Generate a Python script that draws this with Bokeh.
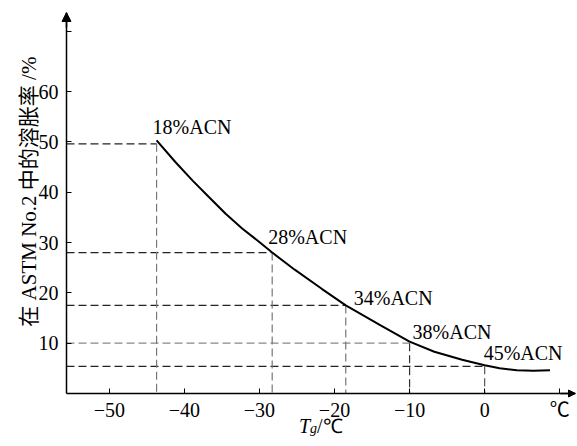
import math
from bokeh.plotting import figure
from bokeh.models import Range1d, FixedTicker, Arrow, NormalHead, ColumnDataSource
from bokeh.core.properties import value
from bokeh.embed import file_html
from bokeh.resources import INLINE

# ---- data ----
acn_labels = ["18%ACN", "28%ACN", "34%ACN", "38%ACN", "45%ACN"]
tg = [-43.7, -28.3, -18.5, -10.0, 0.0]
swell = [49.6, 28.0, 17.5, 10.0, 5.4]

curve_x = [-43.7, -41.2, -38.9, -36.7, -34.5, -32.3, -30.1, -28.3, -25.3, -21.7,
           -18.5, -13.8, -10.0, -6.7, -3.0, 0.0, 2.0, 4.3, 6.5, 8.7]
curve_y = [50.3, 46.0, 42.3, 39.0, 35.7, 32.8, 30.2, 28.0, 24.6, 20.8,
           17.5, 13.5, 10.3, 8.3, 6.7, 5.6, 5.0, 4.6, 4.5, 4.6]

x_ticks = [-50, -40, -30, -20, -10, 0, 10]
x_tick_labels = {-50: "\u221250", -40: "\u221240", -30: "\u221230", -20: "\u221220",
                 -10: "\u221210", 0: "0", 10: "\u2103"}
y_ticks = [10, 20, 30, 40, 50, 60, 72]
y_tick_labels = {72: ""}

x_title = "/\u2103"
y_title = "在 ASTM No.2 中的溶胀率 /%"

# ---- ranges / layout ----
x_start, x_end = -55.7, 12.1
y_start, y_end = 0.0, 75.7
x_left = -64.49        # frame reaches the left edge to hold the y-axis labels
y_low = -9.34          # frame reaches below the x axis to hold its labels

SERIF = "'Liberation Serif', 'Noto Sans CJK SC'"

p = figure(width=577, height=440, output_backend="svg", toolbar_location=None,
           x_range=Range1d(x_left, x_end), y_range=Range1d(y_low, y_end),
           min_border_left=0, min_border_right=2, min_border_top=12, min_border_bottom=0)
p.outline_line_color = None
p.grid.visible = False

for ax in (p.xaxis[0], p.yaxis[0]):
    ax.axis_line_width = 1.5
    ax.axis_line_color = "black"
    ax.major_tick_in = 5
    ax.major_tick_out = 0
    ax.minor_tick_line_color = None
    ax.major_tick_line_color = "black"
    ax.major_label_text_font = SERIF
    ax.major_label_text_font_size = "20px"
    ax.major_label_text_color = "black"

p.xaxis.fixed_location = y_start
p.xaxis.bounds = (x_start, x_end)
p.xaxis.ticker = FixedTicker(ticks=x_ticks)
p.xaxis.major_label_overrides = x_tick_labels
p.xaxis.major_label_standoff = 6

p.yaxis.fixed_location = x_start
p.yaxis.bounds = (y_start, y_end)
p.yaxis.ticker = FixedTicker(ticks=y_ticks)
p.yaxis.major_label_overrides = y_tick_labels
p.yaxis.major_label_standoff = 8

# dashed guide lines
h_colors = ["#222222", "#222222", "#222222", "#888888", "#222222"]
v_colors = ["#777777", "#777777", "#777777", "#333333", "#555555"]
guides = ColumnDataSource(dict(x0=[x_start] * len(tg), tg=tg, sw=swell, zero=[y_start] * len(tg),
                               hc=h_colors, vc=v_colors))
p.segment(x0="x0", y0="sw", x1="tg", y1="sw", source=guides, line_color="hc",
          line_width=1.2, line_dash="8 4")
p.segment(x0="tg", y0="sw", x1="tg", y1="zero", source=guides, line_color="vc",
          line_width=1.2, line_dash="8 4")

# curve
p.line(curve_x, curve_y, line_color="black", line_width=2)

# point labels
lab = ColumnDataSource(dict(x=tg, y=swell, t=acn_labels,
                            dx=[-4, -4, 8, 3, -1], dy=[-17, -16, -7, -11, -13]))
p.text(x="x", y="y", text="t", source=lab, x_offset="dx", y_offset="dy",
       text_font=value("Liberation Serif"), text_font_size="20px",
       text_baseline="alphabetic", text_align="left", text_color="black")

# axis arrows
p.add_layout(Arrow(end=NormalHead(size=9, fill_color="black", line_color="black"),
                   x_start=x_start, y_start=y_end - 3, x_end=x_start, y_end=y_end,
                   line_color="black", line_width=1.5))
p.add_layout(Arrow(end=NormalHead(size=7, fill_color="black", line_color="black"),
                   x_start=x_end - 2, y_start=y_start, x_end=x_end, y_end=y_start,
                   line_color="black", line_width=1.5))

# x axis title  T_g/℃ (below the axis, centred on it)
xc = (x_start + x_end) / 2
y_xt = -6.5
p.text(x=[xc], y=[y_xt], text=["T"], x_offset=-22, text_font=value("Liberation Serif"),
       text_font_style="italic", text_font_size="20px", text_baseline="alphabetic",
       text_align="left", text_color="black")
p.text(x=[xc], y=[y_xt], text=["g"], x_offset=-11, y_offset=2, text_font=value("Liberation Serif"),
       text_font_style="italic", text_font_size="14px", text_baseline="alphabetic",
       text_align="left", text_color="black")
p.text(x=[xc], y=[y_xt], text=[x_title], x_offset=-4, text_font=value("Liberation Serif"),
       text_font_size="20px", text_baseline="alphabetic",
       text_align="left", text_color="black")

# y axis title (rotated)
p.text(x=[x_left + 3.75], y=[40.1], text=[y_title], angle=math.pi / 2,
       text_font=value(SERIF), text_font_size="21px", text_baseline="alphabetic",
       text_align="center", text_color="black")

open("out.html", "w").write(file_html(p, INLINE))
